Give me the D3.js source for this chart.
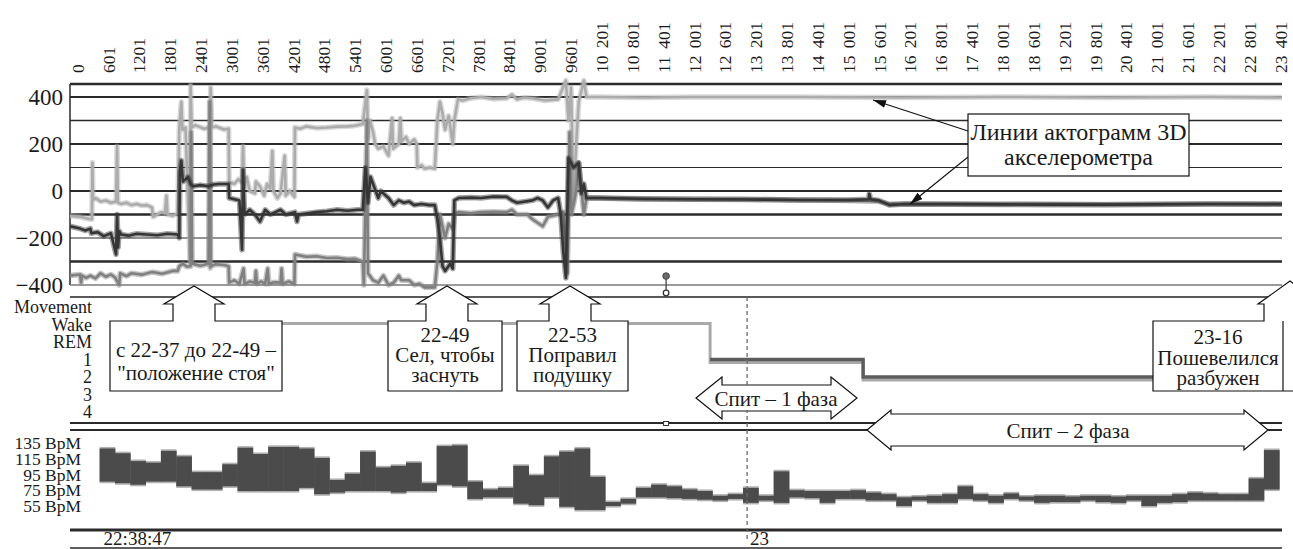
<!DOCTYPE html>
<html><head><meta charset="utf-8">
<script src="https://cdn.jsdelivr.net/npm/d3@7"></script>
<style>
html,body{margin:0;padding:0;background:#fff;overflow:hidden}
svg{display:block}
</style></head><body>
<svg id="chart" width="1293" height="549"></svg>
<script>
// ---------------- DATA ----------------
const tickValues = [0,601,1201,1801,2401,3001,3601,4201,4801,5401,6001,6601,7201,7801,8401,9001,9601,10201,10801,11401,12001,12601,13201,13801,14401,15001,15601,16201,16801,17401,18001,18601,19201,19801,20401,21001,21601,22201,22801,23401];
const tickLabels = ["0","601","1201","1801","2401","3001","3601","4201","4801","5401","6001","6601","7201","7801","8401","9001","9601","10 201","10 801","11 401","12 001","12 601","13 201","13 801","14 401","15 001","15 601","16 201","16 801","17 401","18 001","18 601","19 201","19 801","20 401","21 001","21 601","22 201","22 801","23 401"];
const accelTicks = [400,200,0,-200,-400];
const accelGrid = [400,300,200,100,0,-100,-200,-300,-400];

const seriesLight = [[-136,-105],[60,-110],[160,-115],[260,-120],[290,-120],[300,120],[310,-40],[360,-30],[460,-45],[560,-40],[660,-50],[760,-45],[780,190],[795,-50],[860,-55],[960,-50],[1060,-60],[1160,-55],[1260,-62],[1360,-60],[1460,-70],[1480,-110],[1560,-100],[1640,-90],[1710,-95],[1740,-20],[1760,-100],[1860,-105],[1960,-95],[1990,270],[2030,380],[2050,260],[2110,270],[2200,-300],[2210,450],[2230,270],[2300,280],[2360,275],[2470,265],[2580,270],[2590,-330],[2600,440],[2620,270],[2700,275],[2760,270],[2860,262],[2950,265],[2960,40],[3060,30],[3140,50],[3210,35],[3230,190],[3250,20],[3300,60],[3360,0],[3460,-10],[3480,40],[3560,20],[3640,-20],[3700,30],[3760,10],[3800,170],[3820,0],[3900,-30],[3960,-10],[4040,150],[4060,-20],[4140,0],[4230,-25],[4240,270],[4340,265],[4460,275],[4660,268],[4860,270],[5060,274],[5260,275],[5400,278],[5560,285],[5640,430],[5660,220],[5700,300],[5760,250],[5800,200],[5860,180],[5960,190],[6060,150],[6130,310],[6150,180],[6260,200],[6290,310],[6310,210],[6400,230],[6460,200],[6560,220],[6610,200],[6620,100],[6700,110],[6760,95],[6860,100],[6960,95],[7010,300],[7060,380],[7110,330],[7160,260],[7230,320],[7310,200],[7340,300],[7410,390],[7500,385],[7660,395],[7860,400],[8100,392],[8360,395],[8460,410],[8560,390],[8700,398],[8860,395],[9100,385],[9360,390],[9510,470],[9560,300],[9610,440],[9660,-50],[9710,200],[9760,380],[9860,470],[9910,400],[10160,400],[11000,398],[12000,400],[14000,400],[16000,398],[18000,400],[20000,398],[22000,400],[23440,398]];

const seriesMid = [[-136,-360],[60,-355],[80,-390],[100,-360],[180,-370],[260,-360],[360,-372],[460,-350],[560,-365],[660,-355],[740,-368],[820,-400],[840,-350],[960,-362],[1060,-350],[1260,-356],[1460,-345],[1660,-352],[1860,-340],[1960,-340],[1990,-320],[2060,-310],[2140,-322],[2210,-320],[2220,250],[2240,-310],[2400,-318],[2560,-310],[2580,380],[2600,-320],[2700,-312],[2860,-315],[2950,-320],[2960,-390],[3060,-380],[3160,-395],[3240,-330],[3260,-395],[3360,-385],[3460,-390],[3480,-340],[3500,-395],[3580,-385],[3660,-395],[3710,-330],[3730,-395],[3840,-388],[3960,-390],[3980,-330],[4000,-395],[4120,-385],[4230,-395],[4240,-270],[4460,-280],[4660,-278],[4860,-285],[5060,-284],[5260,-290],[5400,-288],[5560,-300],[5580,-400],[5640,300],[5660,-350],[5760,-380],[5860,-390],[5960,-360],[6060,-400],[6160,-390],[6260,-360],[6310,-380],[6460,-380],[6560,-400],[6660,-395],[6760,-410],[6960,-410],[7010,-300],[7060,-100],[7110,-150],[7160,-200],[7230,-140],[7310,-160],[7340,-100],[7420,-90],[7660,-95],[7860,-90],[8100,-88],[8360,-90],[8460,-80],[8560,-100],[8760,-100],[8860,-120],[9060,-150],[9160,-110],[9360,-100],[9460,-90],[9540,-350],[9580,250],[9620,-100],[9710,0],[9760,120],[9860,-100],[9910,-30],[10060,-30],[11000,-35],[12000,-35],[13000,-35],[14000,-38],[15000,-40],[15600,-45],[15800,-55],[17000,-55],[18000,-56],[19000,-55],[20000,-57],[22000,-55],[23440,-55]];

const seriesDark = [[-136,-150],[60,-160],[160,-168],[260,-160],[280,-180],[400,-175],[520,-192],[660,-180],[760,-270],[780,-100],[800,-240],[820,-170],[860,-185],[1000,-190],[1160,-182],[1360,-185],[1560,-188],[1760,-182],[1960,-185],[1990,-200],[2000,80],[2030,130],[2060,40],[2160,60],[2210,30],[2260,20],[2400,25],[2560,20],[2660,28],[2760,30],[2950,30],[2960,-30],[3060,-35],[3160,-40],[3210,-250],[3230,90],[3260,-100],[3360,-80],[3460,-100],[3560,-130],[3660,-80],[3760,-100],[3860,-90],[3960,-80],[4060,-100],[4240,-90],[4280,-130],[4310,-100],[4460,-96],[4660,-90],[4860,-86],[5060,-80],[5260,-84],[5460,-80],[5560,-80],[5610,100],[5660,-50],[5710,60],[5760,30],[5860,-30],[5910,0],[6060,-30],[6160,-60],[6260,-40],[6360,-50],[6460,-45],[6560,-60],[6700,-55],[6860,-60],[6960,-60],[7010,-120],[7060,-200],[7110,-320],[7160,-340],[7260,-310],[7310,-330],[7340,-40],[7420,-30],[7660,-28],[7860,-30],[8100,-24],[8360,-25],[8460,-40],[8560,-50],[8860,-40],[8960,-30],[9060,-40],[9160,-70],[9260,-40],[9360,-30],[9410,-100],[9460,-260],[9510,-370],[9560,140],[9610,120],[9660,100],[9760,120],[9810,-10],[9860,30],[9910,-30],[10160,-30],[11000,-33],[12000,-35],[13000,-36],[14000,-38],[15000,-38],[15400,-35],[15410,-12],[15440,-35],[15600,-40],[15800,-60],[16100,-55],[17000,-56],[18000,-57],[19000,-58],[20000,-58],[22000,-55],[23440,-56]];

const eventT = 11459, eventHigh = -362, eventLow = -434;

const stages = ["Movement","Wake","REM","1","2","3","4"];
const hypnoLight = [[700,"Wake"],[12315,"1"],[15292,"2"],[23440,"2"]];
const hypnoDark = [[12315,"1"],[15292,"2"],[23440,"2"]];

const hrTicks = [135,115,95,75,55];
const hrStart = 440, hrEpoch = 298;
const hrLow  = [86,84,82,86,86,80,76,76,80,74,74,74,74,78,70,72,74,74,74,72,74,74,82,80,64,66,66,58,56,66,54,50,50,55,58,66,66,65,64,63,62,64,59,62,59,66,65,59,64,64,62,62,55,62,59,59,64,62,59,64,62,59,60,60,62,60,59,62,55,59,60,62,62,62,62,62,76];
const hrHigh = [128,122,112,110,125,118,98,98,108,129,121,130,130,128,116,88,96,124,104,106,110,84,131,132,86,76,78,106,94,118,124,128,92,60,64,78,82,80,76,74,68,70,78,68,99,75,74,74,74,75,72,70,66,67,68,70,80,70,68,71,67,68,68,67,68,68,67,68,68,68,70,72,71,70,70,90,126];

const markerT = 13035;
const timeLabels = ["22:38:47","23"];

const calloutTexts = [
  ["с 22-37 до 22-49 –","\"положение стоя\""],
  ["22-49","Сел, чтобы","заснуть"],
  ["22-53","Поправил","подушку"],
  ["23-16","Пошевелился","разбужен"]
];
const calloutTipT = [2276, 7197, 9590];
const legendTexts = ["Линии актограмм 3D","акселерометра"];
const phaseTexts = ["Спит – 1 фаза","Спит – 2 фаза"];

// ---------------- DRAW ----------------
const FONT = '"Liberation Serif","Times New Roman",serif';
const INK = "#1a1a1a";
const svg = d3.select("#chart").attr("font-family", FONT);
svg.append("rect").attr("width",1293).attr("height",549).attr("fill","#fff");

const x = d3.scaleLinear().domain([-136, 23440]).range([70, 1282]);
const yA = d3.scaleLinear().domain([-400, 400]).range([285, 97]);
const yS = d3.scalePoint().domain(stages).range([307, 412]);
const yH = d3.scaleLinear().domain([55, 135]).range([506, 443]);
const [X0, X1] = x.range();
const TOPLINE = 84;

// top axis
const gTop = svg.append("g").attr("transform","translate(0,73)")
  .call(d3.axisTop(x).tickValues(tickValues).tickFormat((d,i)=>tickLabels[i]).tickSize(0));
gTop.select(".domain").remove();
gTop.attr("font-family", FONT).attr("font-size", 17.5);
gTop.selectAll("text").attr("transform","rotate(-90)").attr("x",0).attr("y",0)
  .attr("dy","0.35em").attr("text-anchor","start").attr("fill",INK).style("word-spacing","3px");

svg.append("line").attr("x1",X0).attr("x2",X1).attr("y1",TOPLINE).attr("y2",TOPLINE).attr("stroke","#2a2a2a").attr("stroke-width",2.4);
svg.append("line").attr("x1",X0).attr("x2",X0).attr("y1",TOPLINE).attr("y2",yA(-400)).attr("stroke","#2a2a2a").attr("stroke-width",1.5);

// grid
const gridW = {"400":2.2,"300":1.7,"200":1.8,"100":1.1,"0":1.9,"-100":2.4,"-200":1.1,"-300":2.4,"-400":1.4};
svg.append("g").selectAll("line").data(accelGrid).join("line")
  .attr("x1",X0).attr("x2",X1).attr("y1",d=>yA(d)).attr("y2",d=>yA(d))
  .attr("stroke",d=>d===-400?"#7a7a7a":"#2a2a2a").attr("stroke-width",d=>gridW[String(d)]);

// y axis
const gA = svg.append("g").attr("transform","translate(63,0)")
  .call(d3.axisLeft(yA).tickValues(accelTicks).tickSize(0).tickPadding(0));
gA.select(".domain").remove();
gA.attr("font-family",FONT).attr("font-size",23);
gA.selectAll("text").attr("fill",INK);

// accelerometer series (a soft wide underlay imitates the scatter of samples)
const line = d3.line().x(d=>x(d[0])).y(d=>yA(d[1]));
[[seriesLight,"#acacac"],[seriesMid,"#808080"],[seriesDark,"#353535"]].forEach(([s,c])=>{
  svg.append("path").datum(s).attr("d",line).attr("fill","none").attr("stroke",c).attr("stroke-opacity",0.45).attr("stroke-width",5.5).attr("stroke-linejoin","round");
  svg.append("path").datum(s).attr("d",line).attr("fill","none").attr("stroke",c).attr("stroke-width",2.6).attr("stroke-linejoin","round");
});

// panel separator
svg.append("line").attr("x1",X0).attr("x2",X1).attr("y1",297).attr("y2",297).attr("stroke","#222").attr("stroke-width",1.4);

// event lollipop
svg.append("line").attr("x1",x(eventT)).attr("x2",x(eventT)).attr("y1",yA(eventHigh)).attr("y2",yA(eventLow)).attr("stroke","#444").attr("stroke-width",1.3);
svg.append("circle").attr("cx",x(eventT)).attr("cy",yA(eventHigh)).attr("r",3.3).attr("fill","#6a6a6a").attr("stroke","#444");
svg.append("circle").attr("cx",x(eventT)).attr("cy",yA(eventLow)).attr("r",2.8).attr("fill","#fff").attr("stroke","#333").attr("stroke-width",1.3);

// hypnogram
const gS = svg.append("g").attr("transform","translate(92,0)")
  .call(d3.axisLeft(yS).tickSize(0).tickPadding(0));
gS.select(".domain").remove();
gS.attr("font-family",FONT).attr("font-size",18);
gS.selectAll("text").attr("fill",INK);

const stepLight = d3.line().curve(d3.curveStepAfter).x(d=>x(d[0])).y(d=>yS(d[1]) + (d[1]==="Wake"? -1 : 3));
const stepDark = d3.line().curve(d3.curveStepAfter).x(d=>x(d[0])).y(d=>yS(d[1]));
svg.append("path").datum(hypnoLight).attr("d",stepLight).attr("fill","none").attr("stroke","#a9a9a9").attr("stroke-width",3);
svg.append("path").datum(hypnoDark).attr("d",stepDark).attr("fill","none").attr("stroke","#5c5c5c").attr("stroke-width",3.4);

// double line
[423,430].forEach(yy=>svg.append("line").attr("x1",X0).attr("x2",X1).attr("y1",yy).attr("y2",yy).attr("stroke","#2a2a2a").attr("stroke-width",2.2));
svg.append("rect").attr("x",x(eventT)-2.5).attr("y",421.5).attr("width",5).attr("height",4).attr("fill","#fff").attr("stroke","#333").attr("stroke-width",1);

// heart rate
const bw = x(hrEpoch) - x(0);
const hr = hrLow.map((lo,i)=>({t: hrStart + i*hrEpoch, lo, hi: hrHigh[i]}));
const gH = svg.append("g");
gH.selectAll("rect.cap").data(hr).join("rect").attr("class","cap")
  .attr("x",d=>x(d.t)).attr("width",bw+0.4)
  .attr("y",d=>yH(d.hi)-1.6).attr("height",d=>yH(d.lo)-yH(d.hi)+3.2).attr("fill","#b0b0b0");
gH.selectAll("rect.bar").data(hr).join("rect").attr("class","bar")
  .attr("x",d=>x(d.t)).attr("width",bw+0.4)
  .attr("y",d=>yH(d.hi)).attr("height",d=>yH(d.lo)-yH(d.hi)).attr("fill","#4b4b4b");

const gHa = svg.append("g").attr("transform","translate(81,0)")
  .call(d3.axisLeft(yH).tickValues(hrTicks).tickFormat(d=>d+" BpM").tickSize(0).tickPadding(0));
gHa.select(".domain").remove();
gHa.attr("font-family",FONT).attr("font-size",17.5);
gHa.selectAll("text").attr("fill",INK);

// bottom lines
svg.append("line").attr("x1",X0).attr("x2",X1).attr("y1",530).attr("y2",530).attr("stroke","#2a2a2a").attr("stroke-width",3);
svg.append("line").attr("x1",X0).attr("x2",X1).attr("y1",548).attr("y2",548).attr("stroke","#2a2a2a").attr("stroke-width",1.5);
svg.append("text").attr("x",x(hrStart)+4).attr("y",545).attr("font-size",19).attr("fill",INK).text(timeLabels[0]);
svg.append("text").attr("x",x(markerT)+3).attr("y",545).attr("font-size",19).attr("fill",INK).text(timeLabels[1]);

// ---------------- ANNOTATIONS ----------------
const A = svg.append("g");
function upCallout(box, cx, tipY, baseY, hw, sw){
  const [x0,y0,x1,y1] = box;
  return `M${x0},${y0}L${cx-sw},${y0}L${cx-sw},${baseY}L${cx-hw},${baseY}L${cx},${tipY}L${cx+hw},${baseY}L${cx+sw},${baseY}L${cx+sw},${y0}L${x1},${y0}L${x1},${y1}L${x0},${y1}Z`;
}
const boxes = [[110,321,282,391],[388,321,502,391],[517,321,628,391]];
const lineY = [[350,373],[335,355,375],[335,355,375]];
boxes.forEach((b,i)=>{
  A.append("path").attr("d",upCallout(b, x(calloutTipT[i]), 286, 304, 30, 21))
    .attr("fill","#fff").attr("stroke","#111").attr("stroke-width",1.2);
  calloutTexts[i].forEach((t,j)=>A.append("text").attr("x",(b[0]+b[2])/2).attr("y",lineY[i][j])
    .attr("text-anchor","middle").attr("dominant-baseline","central").attr("font-size",21).attr("fill",INK).text(t));
});
// box 4 (arrow pointing up-right, partly off the picture)
A.append("path").attr("d","M1153,321L1264,321L1264,304L1258,304L1290,281L1322,304L1316,304L1316,391L1153,391Z")
  .attr("fill","#fff").attr("stroke","#111").attr("stroke-width",1.2);
A.append("line").attr("x1",1283).attr("x2",1283).attr("y1",321).attr("y2",391).attr("stroke","#111").attr("stroke-width",1.2);
calloutTexts[3].forEach((t,j)=>A.append("text").attr("x",1218).attr("y",[337,358,378][j])
  .attr("text-anchor","middle").attr("dominant-baseline","central").attr("font-size",21).attr("fill",INK).text(t));

// legend box with arrows
const defs = svg.append("defs");
defs.append("marker").attr("id","ah").attr("markerUnits","userSpaceOnUse").attr("markerWidth",13).attr("markerHeight",8)
  .attr("viewBox","0 0 13 8").attr("refX",13).attr("refY",4).attr("orient","auto")
  .append("path").attr("d","M0,0L13,4L0,8Z").attr("fill","#111");
A.append("line").attr("x1",968).attr("y1",131).attr("x2",873).attr("y2",100).attr("stroke","#111").attr("stroke-width",1.1).attr("marker-end","url(#ah)");
A.append("line").attr("x1",968).attr("y1",157).attr("x2",910).attr("y2",204).attr("stroke","#111").attr("stroke-width",1.1).attr("marker-end","url(#ah)");
A.append("rect").attr("x",968).attr("y",114).attr("width",221).attr("height",62).attr("fill","#fff").attr("stroke","#111").attr("stroke-width",1.2);
legendTexts.forEach((t,i)=>A.append("text").attr("x",1078.5).attr("y",132+i*25).attr("text-anchor","middle")
  .attr("dominant-baseline","central").attr("font-size",24).attr("fill",INK).text(t));

// double-headed arrows
function dblArrow(xl, xr, cy, hl, hh, sh){
  return `M${xl},${cy}L${xl+hl},${cy-hh}L${xl+hl},${cy-sh}L${xr-hl},${cy-sh}L${xr-hl},${cy-hh}L${xr},${cy}L${xr-hl},${cy+hh}L${xr-hl},${cy+sh}L${xl+hl},${cy+sh}L${xl+hl},${cy+hh}Z`;
}
A.append("path").attr("d",dblArrow(696,857,398,26,21,13)).attr("fill","#fff").attr("stroke","#111").attr("stroke-width",1.2);
A.append("path").attr("d",dblArrow(867,1268,430,24,20,16)).attr("fill","#fff").attr("stroke","#111").attr("stroke-width",1.2);

// dashed marker line
svg.append("line").attr("x1",x(markerT)).attr("x2",x(markerT)).attr("y1",297).attr("y2",541)
  .attr("stroke","#6a6a6a").attr("stroke-width",1.3).attr("stroke-dasharray","4,3");
svg.append("rect").attr("x",715).attr("y",388).attr("width",124).attr("height",22).attr("fill","#fff");
svg.append("text").attr("x",776).attr("y",399).attr("text-anchor","middle").attr("dominant-baseline","central")
  .attr("font-size",21).attr("fill",INK).text(phaseTexts[0]);
svg.append("text").attr("x",1068).attr("y",431).attr("text-anchor","middle").attr("dominant-baseline","central")
  .attr("font-size",21).attr("fill",INK).text(phaseTexts[1]);
</script>
</body></html>
